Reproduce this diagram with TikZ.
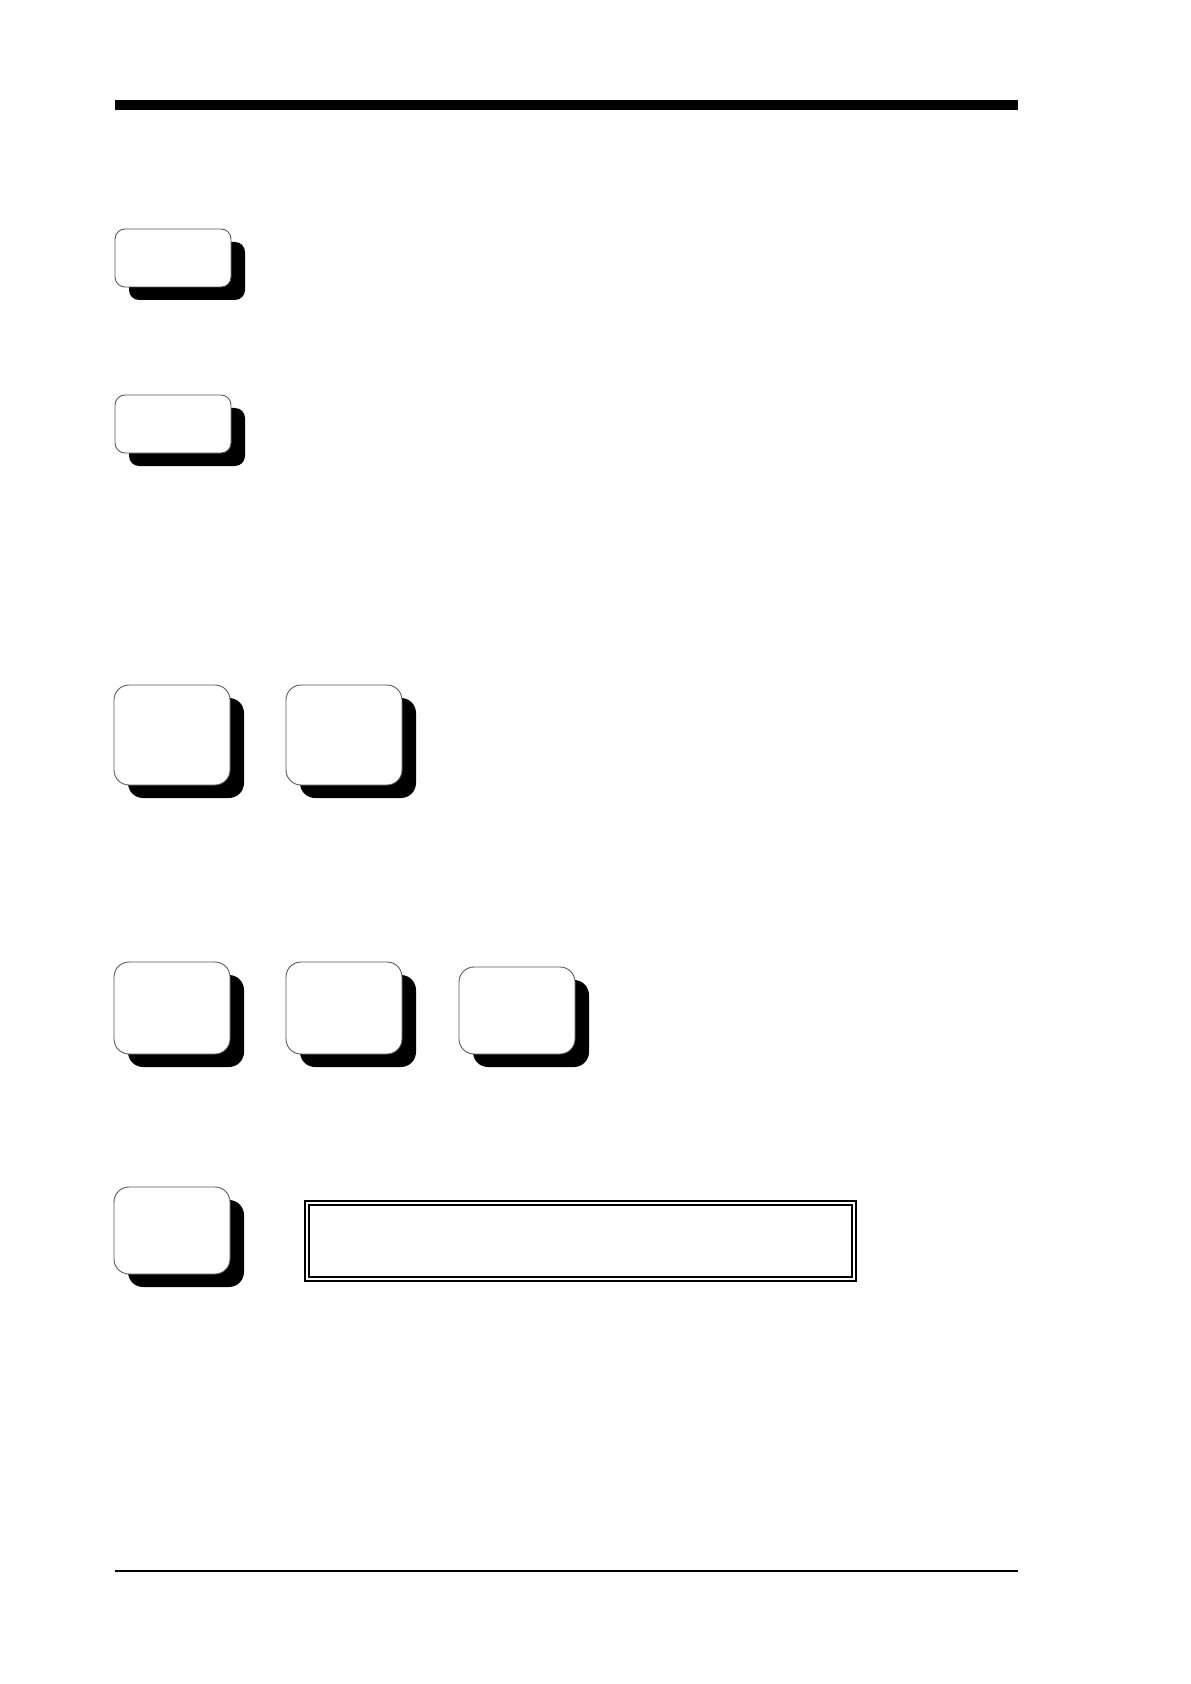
\documentclass[tikz,border=0pt]{standalone}
\begin{document}
\begin{tikzpicture}[x=0.5pt,y=-0.5pt,
  card/.style={draw=black!65, line width=0.45pt, fill=white},
  cardshadow/.style={fill=black},
  thickrule/.style={fill=black},
  thinrule/.style={draw=black, line width=0.8pt},
  frameouter/.style={draw=black, line width=1pt},
  frameinner/.style={draw=black, line width=0.6pt}]
\useasboundingbox (0,0) rectangle (1190,1684);
% top bar and bottom rule
\fill[thickrule] (115,100) rectangle (1018,110);
\coordinate (bl) at (115,1571);
\coordinate (br) at (1018,1571);
\draw[thinrule] (bl) -- (br);
% cards: x, y, width, height, corner radius (pt)
\foreach \x/\y/\w/\h/\r in {115/229/116/58/5pt, 115/395/116/58/5pt,
  114/685/116/100/7.5pt, 286/685/116/100/7.5pt,
  114/962/116/92/7.5pt, 286/962/116/92/7.5pt, 459/967/116/87/7.5pt,
  114/1187/116/87/7.5pt}{
  \fill[cardshadow, rounded corners=\r] (\x+14,\y+13) rectangle (\x+\w+14,\y+\h+13);
  \draw[card, rounded corners=\r] (\x,\y) rectangle (\x+\w,\y+\h);
}
% double framed box
\draw[frameouter] (305,1201) rectangle (856,1281);
\draw[frameinner] (309,1205) rectangle (852,1277);
\end{tikzpicture}
\end{document}
